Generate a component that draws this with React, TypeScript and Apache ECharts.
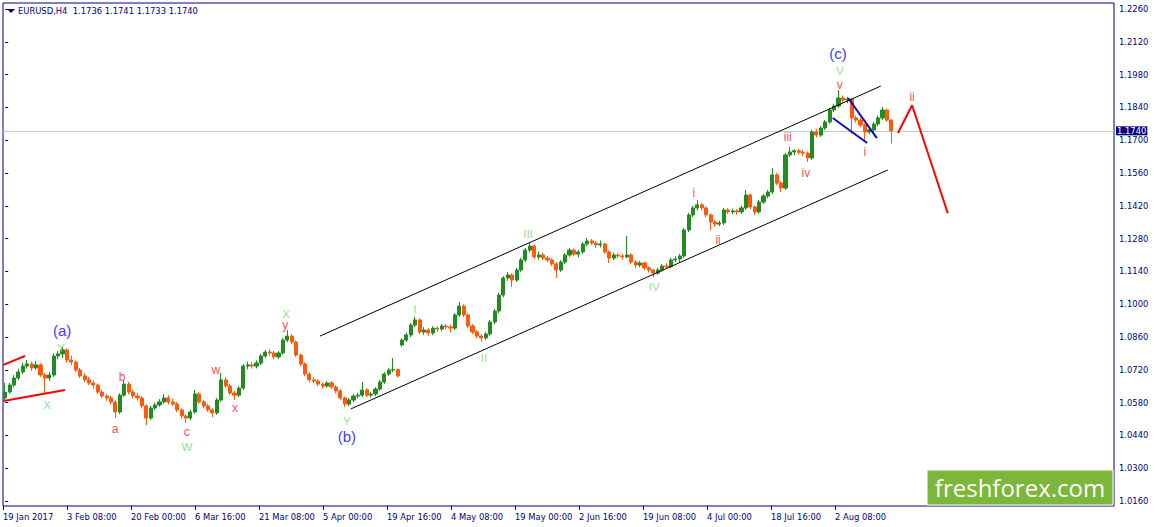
import React, { useEffect, useRef } from 'react';
import * as echarts from 'echarts';

// ---------- data ----------
const headerText = 'EURUSD,H4\u00a0 1.1736 1.1741 1.1733 1.1740';
const lastPrice = 1.174;

const dateLabels = [
  '19 Jan 2017', '3 Feb 08:00', '20 Feb 00:00', '6 Mar 16:00', '21 Mar 08:00',
  '5 Apr 00:00', '19 Apr 16:00', '4 May 08:00', '19 May 00:00', '2 Jun 16:00',
  '19 Jun 08:00', '4 Jul 00:00', '18 Jul 16:00', '2 Aug 08:00',
];

const priceTicks = [
  1.016, 1.03, 1.044, 1.058, 1.072, 1.086, 1.1, 1.114, 1.128, 1.142,
  1.156, 1.17, 1.184, 1.198, 1.212, 1.226,
];

const candleOpen = [
  1.0600, 1.0625, 1.0655, 1.0685, 1.0711, 1.0736, 1.0745, 1.0728, 1.0741, 1.0698,
  1.0685, 1.0698, 1.0779, 1.0788, 1.0805, 1.0762, 1.0753, 1.0719, 1.0694, 1.0677,
  1.0664, 1.0655, 1.0625, 1.0608, 1.0600, 1.0583, 1.0540, 1.0612, 1.0659, 1.0625,
  1.0608, 1.0600, 1.0566, 1.0514, 1.0557, 1.0570, 1.0583, 1.0600, 1.0583, 1.0574,
  1.0549, 1.0523, 1.0514, 1.0540, 1.0617, 1.0583, 1.0566, 1.0549, 1.0536, 1.0591,
  1.0677, 1.0651, 1.0621, 1.0612, 1.0642, 1.0736, 1.0741, 1.0736, 1.0749, 1.0779,
  1.0796, 1.0792, 1.0775, 1.0792, 1.0847, 1.0864, 1.0839, 1.0783, 1.0745, 1.0702,
  1.0677, 1.0672, 1.0659, 1.0651, 1.0664, 1.0647, 1.0630, 1.0600, 1.0574, 1.0591,
  1.0608, 1.0612, 1.0634, 1.0612, 1.0617, 1.0638, 1.0668, 1.0702, 1.0719, 1.0721,
  1.0826, 1.0847, 1.0869, 1.0911, 1.0933, 1.0881, 1.0890, 1.0877, 1.0898, 1.0894,
  1.0907, 1.0903, 1.0898, 1.0954, 1.0992, 1.0954, 1.0907, 1.0881, 1.0864, 1.0856,
  1.0873, 1.0924, 1.0971, 1.1039, 1.1112, 1.1125, 1.1103, 1.1146, 1.1189, 1.1231,
  1.1248, 1.1202, 1.1210, 1.1197, 1.1189, 1.1172, 1.1146, 1.1180, 1.1210, 1.1231,
  1.1214, 1.1223, 1.1257, 1.1270, 1.1261, 1.1253, 1.1257, 1.1223, 1.1197, 1.1210,
  1.1206, 1.1202, 1.1210, 1.1180, 1.1167, 1.1176, 1.1155, 1.1146, 1.1133, 1.1146,
  1.1163, 1.1160, 1.1189, 1.1193, 1.1206, 1.1317, 1.1381, 1.1411, 1.1424, 1.1411,
  1.1381, 1.1351, 1.1342, 1.1347, 1.1402, 1.1394, 1.1398, 1.1394, 1.1411, 1.1466,
  1.1415, 1.1394, 1.1436, 1.1462, 1.1479, 1.1552, 1.1517, 1.1496, 1.1637, 1.1650,
  1.1655, 1.1648, 1.1645, 1.1624, 1.1735, 1.1722, 1.1752, 1.1778, 1.1829, 1.1846,
  1.1880, 1.1872, 1.1875, 1.1795, 1.1786, 1.1765, 1.1735, 1.1744, 1.1769, 1.1795,
  1.1829, 1.1786,
];
const candleClose = [
  1.0625, 1.0655, 1.0685, 1.0711, 1.0736, 1.0745, 1.0728, 1.0741, 1.0698, 1.0685,
  1.0698, 1.0779, 1.0788, 1.0805, 1.0762, 1.0753, 1.0719, 1.0694, 1.0677, 1.0664,
  1.0655, 1.0625, 1.0608, 1.0600, 1.0583, 1.0540, 1.0612, 1.0659, 1.0625, 1.0608,
  1.0600, 1.0566, 1.0514, 1.0557, 1.0570, 1.0583, 1.0600, 1.0583, 1.0574, 1.0549,
  1.0523, 1.0514, 1.0540, 1.0617, 1.0583, 1.0566, 1.0549, 1.0536, 1.0591, 1.0677,
  1.0651, 1.0621, 1.0612, 1.0642, 1.0736, 1.0741, 1.0736, 1.0749, 1.0779, 1.0796,
  1.0792, 1.0775, 1.0792, 1.0847, 1.0864, 1.0839, 1.0783, 1.0745, 1.0702, 1.0677,
  1.0672, 1.0659, 1.0651, 1.0664, 1.0647, 1.0630, 1.0600, 1.0574, 1.0591, 1.0608,
  1.0612, 1.0634, 1.0612, 1.0617, 1.0638, 1.0668, 1.0702, 1.0719, 1.0721, 1.0694,
  1.0847, 1.0869, 1.0911, 1.0933, 1.0881, 1.0890, 1.0877, 1.0898, 1.0894, 1.0907,
  1.0903, 1.0898, 1.0954, 1.0992, 1.0954, 1.0907, 1.0881, 1.0864, 1.0856, 1.0873,
  1.0924, 1.0971, 1.1039, 1.1112, 1.1125, 1.1103, 1.1146, 1.1189, 1.1231, 1.1248,
  1.1202, 1.1210, 1.1197, 1.1189, 1.1172, 1.1146, 1.1180, 1.1210, 1.1231, 1.1214,
  1.1223, 1.1257, 1.1270, 1.1261, 1.1253, 1.1257, 1.1223, 1.1197, 1.1210, 1.1206,
  1.1202, 1.1210, 1.1180, 1.1167, 1.1176, 1.1155, 1.1146, 1.1133, 1.1146, 1.1163,
  1.1160, 1.1189, 1.1193, 1.1206, 1.1317, 1.1381, 1.1411, 1.1424, 1.1411, 1.1381,
  1.1351, 1.1342, 1.1347, 1.1402, 1.1394, 1.1398, 1.1394, 1.1411, 1.1466, 1.1415,
  1.1394, 1.1436, 1.1462, 1.1479, 1.1552, 1.1517, 1.1496, 1.1637, 1.1650, 1.1655,
  1.1648, 1.1645, 1.1624, 1.1735, 1.1722, 1.1752, 1.1778, 1.1829, 1.1846, 1.1880,
  1.1872, 1.1875, 1.1795, 1.1786, 1.1765, 1.1735, 1.1744, 1.1769, 1.1795, 1.1829,
  1.1786, 1.1740,
];
const candleLow = [
  1.0591, 1.0618, 1.0646, 1.0676, 1.0702, 1.0725, 1.0715, 1.0720, 1.0690, 1.0621,
  1.0672, 1.0690, 1.0765, 1.0770, 1.0750, 1.0740, 1.0710, 1.0685, 1.0668, 1.0655,
  1.0640, 1.0615, 1.0598, 1.0588, 1.0572, 1.0514, 1.0532, 1.0605, 1.0615, 1.0598,
  1.0590, 1.0555, 1.0484, 1.0505, 1.0548, 1.0562, 1.0575, 1.0572, 1.0565, 1.0540,
  1.0512, 1.0493, 1.0505, 1.0532, 1.0575, 1.0556, 1.0540, 1.0518, 1.0528, 1.0584,
  1.0642, 1.0612, 1.0591, 1.0604, 1.0634, 1.0722, 1.0725, 1.0726, 1.0740, 1.0770,
  1.0780, 1.0764, 1.0766, 1.0785, 1.0838, 1.0830, 1.0775, 1.0736, 1.0694, 1.0668,
  1.0662, 1.0650, 1.0640, 1.0644, 1.0638, 1.0620, 1.0590, 1.0561, 1.0565, 1.0582,
  1.0598, 1.0604, 1.0604, 1.0602, 1.0608, 1.0630, 1.0660, 1.0694, 1.0710, 1.0686,
  1.0818, 1.0838, 1.0860, 1.0902, 1.0872, 1.0870, 1.0865, 1.0868, 1.0882, 1.0885,
  1.0892, 1.0880, 1.0890, 1.0946, 1.0945, 1.0898, 1.0872, 1.0855, 1.0839, 1.0847,
  1.0865, 1.0915, 1.0962, 1.1030, 1.1100, 1.1073, 1.1095, 1.1138, 1.1180, 1.1222,
  1.1192, 1.1190, 1.1188, 1.1178, 1.1162, 1.1112, 1.1138, 1.1172, 1.1202, 1.1205,
  1.1200, 1.1215, 1.1248, 1.1252, 1.1240, 1.1242, 1.1215, 1.1176, 1.1188, 1.1195,
  1.1190, 1.1195, 1.1170, 1.1155, 1.1158, 1.1145, 1.1135, 1.1116, 1.1125, 1.1138,
  1.1150, 1.1155, 1.1180, 1.1180, 1.1198, 1.1308, 1.1372, 1.1400, 1.1400, 1.1372,
  1.1317, 1.1330, 1.1333, 1.1338, 1.1385, 1.1384, 1.1382, 1.1385, 1.1402, 1.1406,
  1.1380, 1.1386, 1.1428, 1.1452, 1.1470, 1.1508, 1.1479, 1.1488, 1.1628, 1.1636,
  1.1638, 1.1632, 1.1607, 1.1616, 1.1712, 1.1714, 1.1744, 1.1770, 1.1820, 1.1838,
  1.1860, 1.1858, 1.1729, 1.1775, 1.1755, 1.1701, 1.1725, 1.1735, 1.1760, 1.1786,
  1.1778, 1.1686,
];
const candleHigh = [
  1.0664, 1.0664, 1.0698, 1.0724, 1.0750, 1.0762, 1.0755, 1.0758, 1.0748, 1.0706,
  1.0710, 1.0790, 1.0800, 1.0818, 1.0812, 1.0780, 1.0760, 1.0728, 1.0705, 1.0690,
  1.0675, 1.0662, 1.0635, 1.0616, 1.0610, 1.0590, 1.0620, 1.0676, 1.0668, 1.0635,
  1.0620, 1.0608, 1.0572, 1.0566, 1.0580, 1.0595, 1.0616, 1.0612, 1.0596, 1.0582,
  1.0556, 1.0530, 1.0548, 1.0634, 1.0625, 1.0592, 1.0575, 1.0556, 1.0600, 1.0707,
  1.0688, 1.0660, 1.0630, 1.0650, 1.0745, 1.0755, 1.0752, 1.0760, 1.0788, 1.0805,
  1.0808, 1.0800, 1.0800, 1.0855, 1.0889, 1.0872, 1.0845, 1.0790, 1.0752, 1.0710,
  1.0688, 1.0680, 1.0666, 1.0672, 1.0672, 1.0655, 1.0638, 1.0606, 1.0600, 1.0616,
  1.0622, 1.0668, 1.0642, 1.0625, 1.0646, 1.0676, 1.0710, 1.0728, 1.0770, 1.0725,
  1.0855, 1.0878, 1.0920, 1.0946, 1.0940, 1.0902, 1.0898, 1.0906, 1.0905, 1.0916,
  1.0915, 1.0912, 1.0962, 1.1010, 1.1000, 1.0960, 1.0915, 1.0890, 1.0872, 1.0882,
  1.0932, 1.0980, 1.1048, 1.1120, 1.1138, 1.1132, 1.1155, 1.1198, 1.1240, 1.1261,
  1.1255, 1.1225, 1.1220, 1.1206, 1.1196, 1.1180, 1.1188, 1.1218, 1.1240, 1.1238,
  1.1232, 1.1265, 1.1283, 1.1278, 1.1270, 1.1272, 1.1262, 1.1230, 1.1220, 1.1218,
  1.1215, 1.1291, 1.1218, 1.1188, 1.1185, 1.1182, 1.1162, 1.1150, 1.1155, 1.1172,
  1.1175, 1.1198, 1.1205, 1.1215, 1.1325, 1.1390, 1.1420, 1.1445, 1.1432, 1.1418,
  1.1388, 1.1360, 1.1356, 1.1410, 1.1410, 1.1408, 1.1405, 1.1420, 1.1488, 1.1472,
  1.1422, 1.1445, 1.1470, 1.1488, 1.1581, 1.1560, 1.1525, 1.1645, 1.1671, 1.1662,
  1.1664, 1.1660, 1.1652, 1.1745, 1.1748, 1.1760, 1.1786, 1.1838, 1.1855, 1.1914,
  1.1890, 1.1885, 1.1880, 1.1805, 1.1795, 1.1772, 1.1752, 1.1778, 1.1805, 1.1841,
  1.1835, 1.1790,
];

// annotation lines: [candle position, price]
const redWedgeUpper = [[-0.43, 1.0741], [4.49, 1.0779]];
const redWedgeLower = [[-0.43, 1.0587], [13.56, 1.0634]];
const channelUpper = [[71.4, 1.0864], [198.6, 1.1931]];
const channelLower = [[78.4, 1.0553], [200.2, 1.1573]];
const blueUpper = [[191.2, 1.188], [197.7, 1.1709]];
const blueLower = [[187.7, 1.1795], [195.5, 1.1688]];
const forecastPath = [[202.5, 1.1731], [205.7, 1.1849], [213.8, 1.1388]];

// wave labels: [candle position, price, text]
const redWaveLabels: [number, number, string][] = [
  [24.9, 1.0468, 'a'], [26.5, 1.0689, 'b'], [41.2, 1.0453, 'c'], [47.8, 1.0719, 'w'],
  [52.1, 1.0557, 'x'], [63.5, 1.0911, 'y'], [156.2, 1.1475, 'i'], [161.7, 1.1274, 'ii'],
  [177.5, 1.1714, 'iii'], [181.6, 1.156, 'iv'], [189.3, 1.1936, 'v'], [195.0, 1.165, 'i'],
  [205.7, 1.1884, 'ii'],
];
const greenWaveLabels: [number, number, string][] = [
  [12.7, 1.0815, 'Y'], [9.5, 1.057, 'X'], [41.2, 1.0392, 'W'], [63.7, 1.0958, 'X'],
  [77.5, 1.0502, 'Y'], [92.9, 1.098, 'I'], [108.6, 1.0771, 'II'], [118.6, 1.13, 'III'],
  [147.2, 1.1073, 'IV'], [189.3, 1.1996, 'V'],
];
const blueWaveLabels: [number, number, string][] = [
  [12.9, 1.0886, '(a)'], [77.5, 1.0437, '(b)'], [188.9, 1.2068, '(c)'],
];

// ---------- layout ----------
const SLOTS = 252;
const CANDLES_PER_DATE_LABEL = 14.516;
const Y_MIN = 1.01388;
const Y_MAX = 1.22856;
const NAVY = '#000080';
const AXIS_FONT = 'DejaVu Sans';
const LABEL_FONT = 'Liberation Sans';

export default function App() {
  const ref = useRef<HTMLDivElement>(null);

  useEffect(() => {
    document.body.style.margin = '0';
    const chart = echarts.init(ref.current!, null, { renderer: 'svg' });

    const categories = Array.from({ length: SLOTS }, (_, i) => String(i));
    const candles = candleOpen.map((o, i) => [o, candleClose[i], candleLow[i], candleHigh[i]]);
    const dateTickValues = dateLabels.map((_, k) => k * CANDLES_PER_DATE_LABEL - 0.5);

    const labelSeries = (items: [number, number, string][], color: string, size: number) => ({
      type: 'scatter',
      xAxisIndex: 1,
      yAxisIndex: 0,
      symbolSize: 1,
      silent: true,
      z: 6,
      itemStyle: { color: 'rgba(0,0,0,0)' },
      data: items.map((d) => ({ name: d[2], value: [d[0], d[1]] })),
      label: {
        show: true,
        position: 'inside',
        formatter: '{b}',
        color,
        fontSize: size,
        fontFamily: LABEL_FONT,
      },
    });

    const lineSeries = (pts: number[][], color: string, width: number) => ({
      type: 'line',
      xAxisIndex: 1,
      yAxisIndex: 0,
      data: pts,
      symbol: 'none',
      silent: true,
      z: 5,
      lineStyle: { color, width },
    });

    chart.setOption({
      animation: false,
      backgroundColor: '#ffffff',
      grid: {
        left: 3,
        right: 41,
        top: 3,
        bottom: 21,
        show: true,
        borderColor: NAVY,
        borderWidth: 1,
        backgroundColor: '#ffffff',
        containLabel: false,
        outerBoundsMode: 'none',
      },
      xAxis: [
        {
          type: 'category',
          data: categories,
          boundaryGap: true,
          show: false,
        },
        {
          type: 'value',
          min: -0.5,
          max: SLOTS - 0.5,
          position: 'bottom',
          axisLine: { show: false },
          splitLine: { show: false },
          axisTick: {
            show: true,
            customValues: dateTickValues,
            length: 4,
            lineStyle: { color: NAVY },
          },
          axisLabel: {
            show: true,
            customValues: dateTickValues,
            formatter: (v: number) => dateLabels[Math.round((v + 0.5) / CANDLES_PER_DATE_LABEL)] ?? '',
            align: 'left',
            margin: 7,
            color: NAVY,
            fontSize: 8.4,
            fontFamily: AXIS_FONT,
            showMinLabel: true,
            hideOverlap: false,
          },
        },
      ],
      yAxis: {
        type: 'value',
        position: 'right',
        min: Y_MIN,
        max: Y_MAX,
        scale: true,
        axisLine: { show: false },
        splitLine: { show: false },
        axisTick: {
          show: true,
          customValues: priceTicks,
          length: 3,
          lineStyle: { color: NAVY },
        },
        axisLabel: {
          show: true,
          customValues: priceTicks,
          formatter: (v: number) => v.toFixed(4),
          margin: 5,
          color: NAVY,
          fontSize: 8.4,
          fontFamily: AXIS_FONT,
        },
      },
      series: [
        {
          type: 'candlestick',
          xAxisIndex: 0,
          yAxisIndex: 0,
          data: candles,
          barWidth: 3.6,
          z: 3,
          itemStyle: {
            color: '#228b22',
            color0: '#ff5a0a',
            borderColor: '#228b22',
            borderColor0: '#ff5a0a',
            borderWidth: 1,
          },
          markLine: {
            silent: true,
            symbol: ['none', 'none'],
            precision: 4,
            animation: false,
            z: 1,
            lineStyle: { color: '#c8c8c8', type: 'solid', width: 1 },
            label: {
              show: true,
              position: 'end',
              distance: 2,
              formatter: lastPrice.toFixed(4),
              color: '#ffffff',
              backgroundColor: NAVY,
              padding: [1, 1, 0, 1],
              fontSize: 8.4,
              fontFamily: AXIS_FONT,
            },
            data: [{ yAxis: lastPrice }],
          },
        },
        lineSeries(redWedgeUpper, '#ff0000', 2),
        lineSeries(redWedgeLower, '#ff0000', 2),
        lineSeries(channelUpper, '#000000', 1),
        lineSeries(channelLower, '#000000', 1),
        lineSeries(blueUpper, '#0a0ac8', 2),
        lineSeries(blueLower, '#0a0ac8', 2),
        lineSeries(forecastPath, '#ff0000', 2),
        labelSeries(redWaveLabels, '#ff1030', 12),
        labelSeries(greenWaveLabels, '#70d870', 11.5),
        labelSeries(blueWaveLabels, '#0000ff', 15),
      ],
      graphic: [
        {
          type: 'polygon',
          shape: { points: [[7, 9], [15, 9], [11, 13]] },
          style: { fill: NAVY },
        },
        {
          type: 'text',
          x: 18,
          y: 11,
          style: {
            text: headerText,
            fill: NAVY,
            fontSize: 8.4,
            fontFamily: AXIS_FONT,
            verticalAlign: 'middle',
          },
        },
        {
          type: 'rect',
          shape: { x: 927, y: 470, width: 186, height: 35 },
          style: { fill: '#7cb63a', stroke: '#ffffff', lineWidth: 1 },
          z: 10,
        },
        {
          type: 'text',
          x: 1020,
          y: 487,
          z: 11,
          style: {
            text: 'freshforex.com',
            fill: '#ffffff',
            fontSize: 24,
            fontFamily: 'Open Sans',
            align: 'center',
            verticalAlign: 'middle',
          },
        },
      ],
    });

    return () => chart.dispose();
  }, []);

  return <div ref={ref} style={{ width: 1155, height: 527 }} />;
}
